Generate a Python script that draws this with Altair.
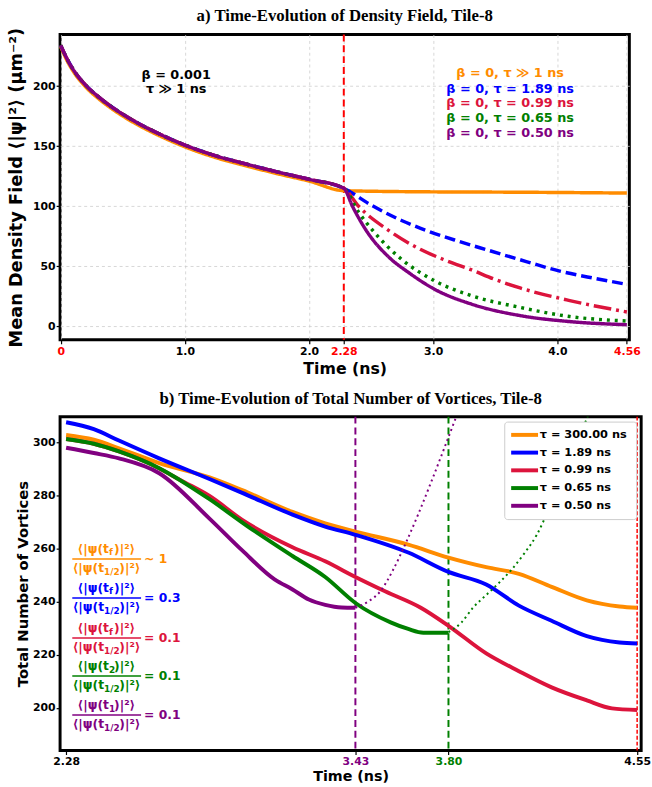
import altair as alt
import pandas as pd

ORANGE = "#ff8c00"
BLUE = "#0000ff"
CRIMSON = "#dc143c"
GREEN = "#008000"
PURPLE = "#800080"
RED = "#ff0000"

# ---------------- panel a : mean density field ----------------
pre_t = [0.0, 0.05, 0.1, 0.2, 0.3, 0.45, 0.6, 0.8, 1.0, 1.25, 1.5, 1.75, 2.0, 2.28]
pre_v = [234, 223, 214, 201, 191.5, 180, 170.5, 160, 151, 142, 135, 128.5, 122.5, 115]
orange_pre_v = [233, 221.5, 212.5, 199.5, 190, 178.5, 169, 158.5, 149.5, 140.5, 133.5, 127, 121, 113]

a_orange_t = [2.28, 3.0, 3.5, 4.0, 4.56]
a_orange_v = [112.5, 112, 111.8, 111.5, 111]
a_blue_t = [2.28, 2.5, 2.75, 2.94, 3.2, 3.44, 3.75, 4.02, 4.3, 4.56]
a_blue_v = [115, 101, 88, 80, 71, 63.5, 54, 46, 40, 35]
a_red_t = [2.28, 2.4, 2.64, 2.9, 3.1, 3.31, 3.5, 3.7, 4.1, 4.56]
a_red_v = [115, 100, 80, 64, 55, 47, 39, 32, 21.5, 12]
a_green_t = [2.28, 2.4, 2.52, 2.75, 3.01, 3.31, 3.7, 4.1, 4.56]
a_green_v = [115, 95, 79, 55.5, 38, 25.5, 15.8, 8.2, 4.5]
a_purple_t = [2.28, 2.35, 2.46, 2.65, 2.8, 3.01, 3.31, 3.7, 4.1, 4.56]
a_purple_v = [115, 100, 80, 57, 45, 31, 18.5, 9, 4, 1.4]

a_ticks = [0, 1, 2, 2.28, 3, 4, 4.56]
a_quench = [2.28]

beta_t = [0.93, 0.93]
beta_v = [209.5, 198]
beta_text = ["β = 0.001", "τ ≫ 1 ns"]

lab_t = [3.62, 3.62, 3.62, 3.62, 3.62]
lab_v = [211, 198, 185.7, 173.4, 161]
lab_text = ["β = 0, τ ≫ 1 ns", "β = 0, τ = 1.89 ns", "β = 0, τ = 0.99 ns",
            "β = 0, τ = 0.65 ns", "β = 0, τ = 0.50 ns"]
lab_color = [ORANGE, BLUE, CRIMSON, GREEN, PURPLE]

# ---------------- panel b : number of vortices ----------------
series_names = ["τ =  300.00 ns", "τ =  1.89 ns", "τ =  0.99 ns", "τ =  0.65 ns", "τ =  0.50 ns"]
series_colors = [ORANGE, BLUE, CRIMSON, GREEN, PURPLE]

b_orange_t = [2.28, 2.39, 2.49, 2.65, 2.85, 2.98, 3.18, 3.31, 3.43, 3.64, 3.8, 3.95, 4.08, 4.21, 4.35, 4.48, 4.55]
b_orange_v = [302.8, 301, 297.8, 292.2, 286.8, 282, 273.8, 269.5, 266.4, 261.5, 256.6, 253, 250.5, 245.6, 240.5, 238.2, 237.7]
b_blue_t = [2.28, 2.39, 2.49, 2.65, 2.85, 2.98, 3.18, 3.31, 3.43, 3.64, 3.8, 3.95, 4.08, 4.21, 4.35, 4.48, 4.55]
b_blue_v = [307.6, 305, 300.7, 294, 286.2, 281, 272.8, 268.3, 265.2, 258.5, 251.2, 246.5, 238.5, 232.8, 227, 224.6, 224.2]
b_red_t = [2.28, 2.39, 2.49, 2.6, 2.75, 2.85, 2.98, 3.18, 3.31, 3.43, 3.55, 3.69, 3.8, 3.95, 4.08, 4.21, 4.35, 4.45, 4.55]
b_red_v = [301.3, 299.5, 296.6, 292.5, 285, 279.8, 270.8, 260.5, 255.2, 249.3, 243.8, 237.7, 230.9, 220.5, 213.8, 207.7, 202.8, 199.8, 199.2]
b_green_t = [2.28, 2.39, 2.49, 2.65, 2.85, 3.0, 3.18, 3.31, 3.43, 3.57, 3.64, 3.7, 3.8]
b_green_v = [301.3, 299.5, 296.6, 290.3, 278.6, 268.5, 257.2, 249.3, 239.5, 232.2, 229.7, 228.3, 228.3]
b_purple_t = [2.28, 2.39, 2.49, 2.65, 2.85, 2.98, 3.11, 3.18, 3.245, 3.31, 3.375, 3.43]
b_purple_v = [298, 296, 294, 288.4, 271.3, 259.3, 248.3, 244.6, 240.8, 238.8, 237.8, 237.7]

purple_dot_t = [3.43, 3.48, 3.53, 3.58, 3.63, 3.68, 3.73, 3.78, 3.83, 3.86]
purple_dot_v = [237.7, 240, 244, 252, 262, 273, 284.8, 297, 309.5, 317]
green_dot_t = [3.8, 3.85, 3.9, 3.95, 4.0, 4.05, 4.1, 4.15, 4.2, 4.25, 4.3, 4.35, 4.38]
green_dot_v = [228.5, 232, 238, 242.5, 247, 252, 258, 265, 275, 285.5, 297, 309, 316]

b_ticks = [2.28, 3.43, 3.80, 4.55]
b_vlines_t = [3.43, 3.80, 4.55]
b_vlines_c = [PURPLE, GREEN, RED]

frac_center = [2.44] * 5
frac_t1 = [2.3045] * 5
frac_t2 = [2.578] * 5
frac_val_t = [2.59] * 5
frac_y = [256.1, 241.4, 226.3, 212, 197.3]
frac_sub = ["f", "f", "f", "2", "1"]
frac_value = ["~ 1", "= 0.3", "= 0.1", "= 0.1", "= 0.1"]
frac_color = [ORANGE, BLUE, CRIMSON, GREEN, PURPLE]

# ---------------- build panel a ----------------
FONT = "DejaVu Sans"
xs_a = alt.Scale(domain=[-0.005, 4.58], nice=False, zero=False)
ys_a = alt.Scale(domain=[-11.2, 243], nice=False, zero=False)

ax_a_x = alt.Axis(
    values=a_ticks, title="Time (ns)", titleFontSize=16, titlePadding=4,
    labelExpr="datum.value == 0 ? '0' : (datum.value == 2.28 || datum.value == 4.56) ? format(datum.value, '.2f') : format(datum.value, '.1f')",
    labelColor={"condition": {"test": "datum.value == 0 || datum.value == 2.28 || datum.value == 4.56", "value": RED}, "value": "black"},
    grid=True, gridColor="#cccccc", gridDash=[3, 3], gridWidth=0.8,
    tickSize=4, labelPadding=2, labelFlush=False,
)
ax_a_y = alt.Axis(
    values=[0, 50, 100, 150, 200], title="Mean Density Field ⟨|ψ|²⟩ (μm⁻²)",
    titleFontSize=18, titlePadding=7, grid=True, gridColor="#cccccc", gridDash=[3, 3],
    gridWidth=0.8, tickSize=4, labelPadding=1, format="d",
)


def X_a(f):
    return alt.X(f, type="quantitative", scale=xs_a, axis=ax_a_x)


def Y_a(f):
    return alt.Y(f, type="quantitative", scale=ys_a, axis=ax_a_y)


a_layers = []
a_layers.append(
    alt.Chart(pd.DataFrame({"t": a_quench})).mark_rule(color=RED, strokeWidth=2, strokeDash=[7, 4])
    .encode(x=X_a("t"))
)
a_specs = [
    (pre_t + a_orange_t[1:], orange_pre_v + a_orange_v[1:], ORANGE, [1, 0]),
    (pre_t + a_blue_t[1:], pre_v + a_blue_v[1:], BLUE, [11, 5]),
    (pre_t + a_red_t[1:], pre_v + a_red_v[1:], CRIMSON, [18, 5, 3, 5]),
    (pre_t + a_green_t[1:], pre_v + a_green_v[1:], GREEN, [3, 5]),
    (pre_t + a_purple_t[1:], pre_v + a_purple_v[1:], PURPLE, [1, 0]),
]
for ts, vs, col, dash in a_specs:
    a_layers.append(
        alt.Chart(pd.DataFrame({"t": ts, "v": vs}))
        .mark_line(color=col, strokeWidth=3.5, strokeDash=dash, interpolate="monotone")
        .encode(x=X_a("t"), y=Y_a("v"))
    )
a_layers.append(
    alt.Chart(pd.DataFrame({"t": beta_t, "v": beta_v, "s": beta_text}))
    .mark_text(font=FONT, fontWeight="bold", fontSize=13, color="black", align="center", baseline="middle")
    .encode(x=X_a("t"), y=Y_a("v"), text="s:N")
)
a_layers.append(
    alt.Chart(pd.DataFrame({"t": lab_t, "v": lab_v, "s": lab_text, "c": lab_color}))
    .mark_text(font=FONT, fontWeight="bold", fontSize=13, align="center", baseline="middle")
    .encode(x=X_a("t"), y=Y_a("v"), text="s:N", color=alt.Color("c:N", scale=None, legend=None))
)

top = alt.layer(*a_layers).properties(
    width=578, height=310,
    title=alt.TitleParams("a) Time-Evolution of Density Field, Tile-8", font="Liberation Serif",
                          fontSize=17, fontWeight="bold", anchor="middle", offset=2, color="black"),
)

# ---------------- build panel b ----------------
xs_b = alt.Scale(domain=[2.256, 4.566], nice=False, zero=False)
ys_b = alt.Scale(domain=[183.9, 309.7], nice=False, zero=False)
ax_b_x = alt.Axis(
    values=b_ticks, title="Time (ns)", titleFontSize=14.5, titlePadding=3, format=".2f",
    labelColor={"condition": [{"test": "datum.value == 3.43", "value": PURPLE},
                              {"test": "datum.value == 3.8", "value": GREEN}], "value": "black"},
    grid=False, tickSize=4, labelPadding=1, labelFlush=False,
)
ax_b_y = alt.Axis(
    values=[200, 220, 240, 260, 280, 300], title="Total Number of Vortices", titleFontSize=15,
    titlePadding=2, grid=False, tickSize=4, labelPadding=1, format="d",
)


def X_b(f):
    return alt.X(f, type="quantitative", scale=xs_b, axis=ax_b_x)


def Y_b(f):
    return alt.Y(f, type="quantitative", scale=ys_b, axis=ax_b_y)


color_b = alt.Scale(domain=series_names, range=series_colors)
legend_b = alt.Legend(
    title=None, orient="top-right", symbolType="M-1,0H3.2", symbolStrokeWidth=4, symbolSize=169,
    labelFont=FONT, labelFontWeight="bold", labelFontSize=11.5, labelColor="black", labelOffset=14,
    fillColor="white", strokeColor="#cccccc", cornerRadius=3, padding=5, offset=5, rowPadding=1,
)

b_layers = []
for t_vals, c in zip(b_vlines_t, b_vlines_c):
    w = 1.5 if c == RED else 2
    d = [4, 2] if c == RED else [7, 4]
    b_layers.append(
        alt.Chart(pd.DataFrame({"t": [t_vals]})).mark_rule(color=c, strokeWidth=w, strokeDash=d)
        .encode(x=X_b("t"))
    )
b_specs = [
    (b_orange_t, b_orange_v, series_names[0]),
    (b_blue_t, b_blue_v, series_names[1]),
    (b_red_t, b_red_v, series_names[2]),
    (b_green_t, b_green_v, series_names[3]),
    (b_purple_t, b_purple_v, series_names[4]),
]
for ts, vs, name in b_specs:
    b_layers.append(
        alt.Chart(pd.DataFrame({"t": ts, "v": vs, "series": [name] * len(ts)}))
        .mark_line(strokeWidth=4, interpolate="monotone")
        .encode(x=X_b("t"), y=Y_b("v"), stroke=alt.Stroke("series:N", scale=color_b, legend=legend_b))
    )
for ts, vs, col in [(purple_dot_t, purple_dot_v, PURPLE), (green_dot_t, green_dot_v, GREEN)]:
    b_layers.append(
        alt.Chart(pd.DataFrame({"t": ts, "v": vs}))
        .mark_line(color=col, strokeWidth=2, strokeDash=[2, 3.5], interpolate="monotone", clip=True)
        .encode(x=X_b("t"), y=Y_b("v"))
    )

frac_df = pd.DataFrame({
    "tc": frac_center, "t1": frac_t1, "t2": frac_t2, "tv": frac_val_t, "y": frac_y,
    "sub": frac_sub, "val": frac_value, "c": frac_color,
    "left": ["⟨|ψ(t"] * 5, "right": [")|²⟩"] * 5, "dsub": ["1/2"] * 5,
})
fc = alt.Color("c:N", scale=None, legend=None)
base_f = alt.Chart(frac_df)
b_layers.append(base_f.mark_rule(strokeWidth=1.5).encode(x=X_b("t1"), x2="t2", y=Y_b("y"), color=fc))
txt = dict(font=FONT, fontWeight="bold", baseline="alphabetic")
b_layers.append(base_f.mark_text(fontSize=12.5, align="right", dx=2.6, dy=-6, **txt)
                .encode(x=X_b("tc"), y=Y_b("y"), text="left:N", color=fc))
b_layers.append(base_f.mark_text(fontSize=9, align="left", dx=2.6, dy=-3.5, **txt)
                .encode(x=X_b("tc"), y=Y_b("y"), text="sub:N", color=fc))
b_layers.append(base_f.mark_text(fontSize=12.5, align="left", dx=7.8, dy=-6, **txt)
                .encode(x=X_b("tc"), y=Y_b("y"), text="right:N", color=fc))
b_layers.append(base_f.mark_text(fontSize=12.5, align="right", dx=-2.3, dy=13.5, **txt)
                .encode(x=X_b("tc"), y=Y_b("y"), text="left:N", color=fc))
b_layers.append(base_f.mark_text(fontSize=9, align="left", dx=-2.3, dy=16, **txt)
                .encode(x=X_b("tc"), y=Y_b("y"), text="dsub:N", color=fc))
b_layers.append(base_f.mark_text(fontSize=12.5, align="left", dx=13.2, dy=13.5, **txt)
                .encode(x=X_b("tc"), y=Y_b("y"), text="right:N", color=fc))
b_layers.append(base_f.mark_text(fontSize=12.5, align="left", font=FONT, fontWeight="bold", baseline="middle")
                .encode(x=X_b("tv"), y=Y_b("y"), text="val:N", color=fc))

bottom = alt.layer(*b_layers).properties(
    width=590, height=339,
    title=alt.TitleParams("b) Time-Evolution of Total Number of Vortices, Tile-8", font="Liberation Serif",
                          fontSize=17, fontWeight="bold", anchor="middle", offset=7, color="black"),
)

chart = (
    alt.concat(top, bottom, columns=1, spacing=10, align="none")
    .resolve_scale(color="independent", stroke="independent")
    .resolve_legend(color="independent", stroke="independent")
    .properties(padding={"left": 6, "top": 0, "right": 0, "bottom": 0}, background="white")
    .configure_view(stroke="black", strokeWidth=3)
    .configure_axis(labelFont=FONT, labelFontWeight="bold", labelFontSize=11, titleFont=FONT,
                    titleFontWeight="bold", titleColor="black", domain=False, tickColor="black",
                    tickWidth=1.2)
)

chart.save("out.html", embed_options={"renderer": "svg", "actions": False})
